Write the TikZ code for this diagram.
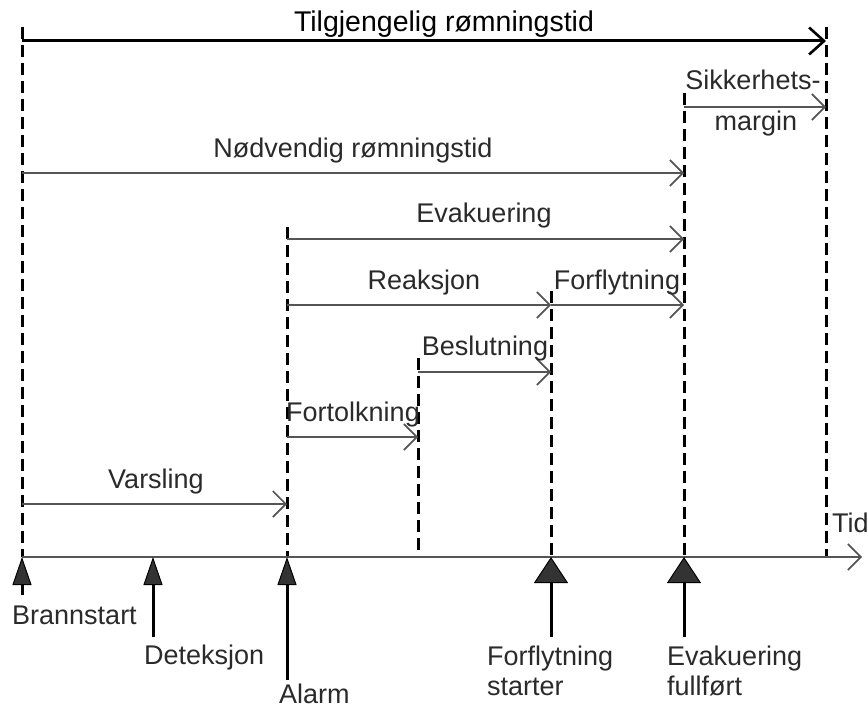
\documentclass[tikz,border=0pt]{standalone}
\usepackage{fontspec}
\setmainfont{Liberation Sans}
\usetikzlibrary{arrows.meta}
\definecolor{linegray}{HTML}{555555}
\definecolor{textgray}{HTML}{2A2A2A}
\definecolor{headgray}{HTML}{333333}
\begin{document}
\begin{tikzpicture}[x=1pt,y=-1pt,
  vline/.style={line width=3pt, dash pattern=on 12pt off 6pt, black},
  span/.style={line width=1.8pt, draw=linegray, -{Straight Barb[length=13pt,width=26pt,line width=1.6pt]}},
  bigspan/.style={line width=3pt, draw=black, -{Straight Barb[length=15pt,width=27pt,line width=2.6pt]}},
  lbl/.style={anchor=base, font=\fontsize{27}{31}\selectfont, text=textgray, inner sep=0pt},
  blbl/.style={anchor=base west, font=\fontsize{27}{31}\selectfont, text=textgray, inner sep=0pt},
  evsmall/.style={line width=3pt, draw=black, -{Triangle[length=28pt,width=19pt,fill=headgray,line width=1pt]}},
  evbig/.style={line width=3pt, draw=black, -{Triangle[length=26pt,width=34pt,fill=headgray,line width=1pt]}},
  axis/.style={line width=1.8pt, draw=linegray, -{Straight Barb[length=13pt,width=26pt,line width=1.6pt]}}
]
\useasboundingbox (0,0) rectangle (868,709);

% time points on the axis
\coordinate (t0) at (22,557);
\coordinate (tdet) at (153,557);
\coordinate (t1) at (287,557);
\coordinate (t2) at (418,557);
\coordinate (t3) at (551,557);
\coordinate (t4) at (684,557);
\coordinate (t5) at (826,557);
\coordinate (axend) at (862,557);

% tops of dashed lines
\coordinate (t0top) at (22,27);
\coordinate (t5top) at (826,27);
\coordinate (t4top) at (684,93);
\coordinate (t1top) at (287,227);
\coordinate (t3top) at (551,291);
\coordinate (t2top) at (418,358);

% dashed vertical lines
\draw[vline] (t0top) -- (t0);
\draw[vline] (t5top) -- (t5);
\draw[vline] (t4top) -- (t4);
\draw[vline] (t1top) -- (t1);
\draw[vline] (t3top) -- (t3);
\draw[vline] (t2top) -- (t2);

% axis
\draw[axis] (t0) -- (axend);
\node[blbl] (tid) at (832,532) {Tid};

% span arrows
\coordinate (a0) at (22,41);   \coordinate (a1) at (826,41);
\draw[bigspan] (a0) -- (a1);
\node[anchor=base, font=\fontsize{28.5}{32}\selectfont, text=black, inner sep=0pt] (ltil) at (444,32) {Tilgjengelig rømningstid};

\coordinate (b0) at (684,107); \coordinate (b1) at (826,107);
\draw[span] (b0) -- (b1);
\node[lbl] (lsik) at (753,90) {Sikkerhets-};
\node[lbl] (lmar) at (756,131) {margin};

\coordinate (c0) at (22,173);  \coordinate (c1) at (684,173);
\draw[span] (c0) -- (c1);
\node[lbl] (lnod) at (353,157) {Nødvendig rømningstid};

\coordinate (d0) at (287,239); \coordinate (d1) at (684,239);
\draw[span] (d0) -- (d1);
\node[lbl] (leva) at (484,222) {Evakuering};

\coordinate (e0) at (287,305); \coordinate (e1) at (551,305); \coordinate (e2) at (684,305);
\draw[span] (e0) -- (e1);
\draw[span] (e1) -- (e2);
\node[lbl] (lrea) at (424,289) {Reaksjon};
\node[lbl] (lfor) at (617,289) {Forflytning};

\coordinate (f0) at (418,372); \coordinate (f1) at (551,372);
\draw[span] (f0) -- (f1);
\node[lbl] (lbes) at (485,355) {Beslutning};

\coordinate (g0) at (287,437); \coordinate (g1) at (418,437);
\draw[span] (g0) -- (g1);
\node[lbl] (lfort) at (353,421) {Fortolkning};

\coordinate (h0) at (22,504); \coordinate (h1) at (287,504);
\draw[span] (h0) -- (h1);
\node[lbl] (lvar) at (156,488) {Varsling};

% event arrows below the axis
\coordinate (p0) at (22,595);
\coordinate (pdet) at (153,637);
\coordinate (p1) at (287,680);
\coordinate (p3) at (551,637);
\coordinate (p4) at (684,637);
\draw[evsmall] (p0) -- (t0);
\draw[evsmall] (pdet) -- (tdet);
\draw[evsmall] (p1) -- (t1);
\draw[evbig] (p3) -- (t3);
\draw[evbig] (p4) -- (t4);

\node[blbl] (lbra) at (12,624) {Brannstart};
\node[blbl] (ldet) at (144,664) {Deteksjon};
\node[blbl] (lala) at (279,703) {Alarm};
\node[blbl] (lfs1) at (487,665) {Forflytning};
\node[blbl] (lfs2) at (487,695) {starter};
\node[blbl] (lef1) at (667,665) {Evakuering};
\node[blbl] (lef2) at (667,695) {fullført};
\end{tikzpicture}
\end{document}
